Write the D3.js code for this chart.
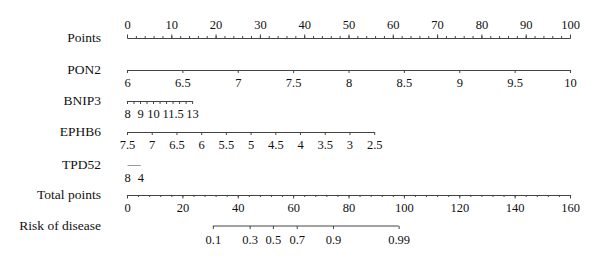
<!DOCTYPE html>
<html>
<head>
<meta charset="utf-8">
<script src="https://cdn.jsdelivr.net/npm/d3@7"></script>
<style>
  body { margin: 0; background: #fff; }
  svg text { font-family: "Liberation Serif", "Times New Roman", Times, serif; fill: #111; }
  .axis path, .axis line { stroke: #444; }
</style>
</head>
<body>
<div id="chart"></div>
<script>
// points scale rows
var pointsLabels = [0, 10, 20, 30, 40, 50, 60, 70, 80, 90, 100];

var variables = ["PON2", "BNIP3", "EPHB6", "TPD52"];
var varRange = [[6, 10], [8, 13], [7.5, 2.5], [8, 4]];
var varMaxPoints = [100, 14.7, 55.8, 3.0];
var varTicks = [
    [6, 6.5, 7, 7.5, 8, 8.5, 9, 9.5, 10],
    [8, 8.5, 9, 9.5, 10, 10.5, 11, 11.5, 12, 12.5, 13],
    [7.5, 7, 6.5, 6, 5.5, 5, 4.5, 4, 3.5, 3, 2.5],
    []
];
var varLabels = [
    [6, 6.5, 7, 7.5, 8, 8.5, 9, 9.5, 10],
    [8, 9, 10, 11.5, 13],
    [7.5, 7, 6.5, 6, 5.5, 5, 4.5, 4, 3.5, 3, 2.5],
    [8, 4]
];

var totalLabels = [0, 20, 40, 60, 80, 100, 120, 140, 160];
var riskLabels = [0.1, 0.3, 0.5, 0.7, 0.9, 0.99];
var riskTotalPoints = [31.0, 44.3, 52.7, 61.3, 74.4, 98.1];

var width = 600, height = 264;
var x0 = 127, x1 = 570;
var rowY = {points: 38, vars: [70, 101, 132, 165], total: 195, risk: 226};
var fmt = function(d) { return String(d); };

var svg = d3.select("#chart").append("svg")
    .attr("width", width)
    .attr("height", height);

var xPts = d3.scaleLinear().domain([0, 100]).range([x0, x1]);
var xTot = d3.scaleLinear().domain([0, 160]).range([x0, x1]);

function rowLabel(txt, y) {
    svg.append("text")
        .attr("x", 101)
        .attr("y", y - 1)
        .attr("text-anchor", "end")
        .attr("dominant-baseline", "central")
        .style("font-size", "13.5px")
        .text(txt);
}

function styleAxis(g) {
    g.attr("font-family", null).attr("font-size", null);
    g.selectAll("text").style("font-size", "12.5px");
}

// Points
rowLabel("Points", rowY.points);
svg.append("g").attr("class", "axis")
    .attr("transform", "translate(0," + rowY.points + ")")
    .call(d3.axisTop(xPts).tickValues(d3.range(0, 101, 2)).tickSize(2).tickSizeOuter(0).tickFormat(""));
svg.append("g").attr("class", "axis")
    .attr("transform", "translate(0," + rowY.points + ")")
    .call(d3.axisTop(xPts).tickValues(pointsLabels).tickSize(3.5).tickPadding(6).tickSizeOuter(0).tickFormat(fmt))
    .call(styleAxis);

// variable rows
variables.forEach(function(v, i) {
    var y = rowY.vars[i];
    var xs = d3.scaleLinear().domain(varRange[i]).range([xPts(0), xPts(varMaxPoints[i])]);
    rowLabel(v, y);
    var g = svg.append("g").attr("class", "axis")
        .attr("transform", "translate(0," + y + ")")
        .call(d3.axisBottom(xs).tickValues(varTicks[i]).tickSize(3).tickSizeOuter(0).tickFormat(""));
    if (v === "TPD52") g.select(".domain").style("stroke", "#999");
    svg.append("g").attr("class", "axis")
        .attr("transform", "translate(0," + y + ")")
        .call(d3.axisBottom(xs).tickValues(varLabels[i]).tickSize(0).tickPadding(8).tickSizeOuter(0).tickFormat(fmt))
        .call(function(g) { g.select(".domain").remove(); })
        .call(styleAxis);
});

// Total points
rowLabel("Total points", rowY.total);
svg.append("g").attr("class", "axis")
    .attr("transform", "translate(0," + rowY.total + ")")
    .call(d3.axisBottom(xTot).tickValues(d3.range(0, 161, 4)).tickSize(2).tickSizeOuter(0).tickFormat(""));
svg.append("g").attr("class", "axis")
    .attr("transform", "translate(0," + rowY.total + ")")
    .call(d3.axisBottom(xTot).tickValues(totalLabels).tickSize(3.5).tickPadding(5).tickSizeOuter(0).tickFormat(fmt))
    .call(styleAxis);

// Risk of disease
rowLabel("Risk of disease", rowY.risk);
var xRisk = d3.scaleOrdinal().domain(riskLabels).range(riskTotalPoints.map(function(d) { return xTot(d); }));
var riskAxis = svg.append("g").attr("class", "axis")
    .attr("transform", "translate(0," + rowY.risk + ")")
    .call(d3.axisBottom(xRisk).tickSize(3).tickPadding(6).tickSizeOuter(0).tickFormat(fmt))
    .call(styleAxis);
riskAxis.select(".domain")
    .attr("d", "M" + xTot(riskTotalPoints[0]) + ",0H" + xTot(riskTotalPoints[riskTotalPoints.length - 1]));
</script>
</body>
</html>
